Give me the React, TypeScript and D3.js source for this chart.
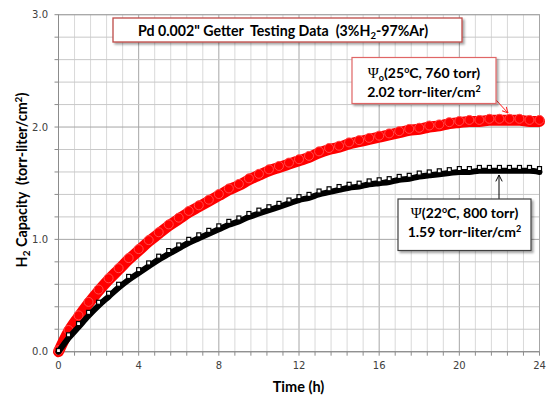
import React from "react";
import * as d3 from "d3";

const hours = [0, 0.5, 1, 1.5, 2, 2.5, 3, 3.5, 4, 4.5, 5, 5.5, 6, 6.5, 7, 7.5, 8, 8.5, 9, 9.5, 10, 10.5, 11, 11.5, 12, 12.5, 13, 13.5, 14, 14.5, 15, 15.5, 16, 16.5, 17, 17.5, 18, 18.5, 19, 19.5, 20, 20.5, 21, 21.5, 22, 22.5, 23, 23.5, 24];
const redValues = [0, 0.18, 0.31, 0.43, 0.54, 0.64, 0.73, 0.82, 0.9, 0.98, 1.05, 1.12, 1.18, 1.24, 1.29, 1.34, 1.39, 1.44, 1.48, 1.53, 1.57, 1.61, 1.64, 1.67, 1.7, 1.73, 1.77, 1.8, 1.82, 1.85, 1.87, 1.89, 1.91, 1.93, 1.95, 1.97, 1.98, 2.0, 2.01, 2.03, 2.04, 2.05, 2.05, 2.06, 2.06, 2.06, 2.06, 2.05, 2.05];
const blackLineValues = [0, 0.12, 0.22, 0.32, 0.41, 0.49, 0.57, 0.64, 0.7, 0.76, 0.82, 0.87, 0.92, 0.97, 1.01, 1.05, 1.09, 1.13, 1.16, 1.2, 1.23, 1.26, 1.29, 1.32, 1.35, 1.37, 1.4, 1.42, 1.44, 1.46, 1.47, 1.49, 1.5, 1.51, 1.53, 1.54, 1.56, 1.57, 1.58, 1.59, 1.6, 1.6, 1.61, 1.61, 1.61, 1.61, 1.61, 1.61, 1.6];
const blackSquareValues = [0.01, 0.15, 0.25, 0.35, 0.44, 0.52, 0.6, 0.67, 0.73, 0.79, 0.85, 0.9, 0.95, 1.0, 1.04, 1.08, 1.12, 1.16, 1.19, 1.23, 1.26, 1.29, 1.32, 1.35, 1.38, 1.4, 1.43, 1.45, 1.47, 1.49, 1.5, 1.52, 1.53, 1.54, 1.56, 1.57, 1.59, 1.6, 1.61, 1.62, 1.63, 1.63, 1.64, 1.64, 1.64, 1.64, 1.64, 1.64, 1.63];
const xTickValues = [0, 4, 8, 12, 16, 20, 24];
const yTickValues = [0, 1, 2, 3];
const titleText = "Pd 0.002\" Getter  Testing Data  (3%H";
const redNote = ["(25", "C, 760 torr)", "2.02 torr-liter/cm"];
const blackNote = ["(22", "C, 800 torr)", "1.59 torr-liter/cm"];

const W = 548;
const H = 396;
const boldFont = "Lato, 'Open Sans', sans-serif";
const pre = { whiteSpace: "pre" as const };

export default function App() {
  const x = d3.scaleLinear().domain([0, 24]).range([58.5, 539.5]);
  const y = d3.scaleLinear().domain([0, 3]).range([351.7, 14.7]);
  const minorX = d3.range(0, 24.001, 0.8);
  const minorY = d3.range(0, 3.001, 0.2);
  const isMajor = (v: number, step: number) => Math.abs(v / step - Math.round(v / step)) < 1e-6;

  const line = d3
    .line<number>()
    .x((_, i) => x(hours[i]))
    .curve(d3.curveMonotoneX);
  const redPath = line.y((v) => y(v))(redValues) || "";
  const blackPath = line.y((v) => y(v))(blackLineValues) || "";

  return (
    <div style={{ position: "fixed", left: 0, top: 0, width: W, height: H, background: "#fff" }}>
      <svg width={W} height={H} viewBox={`0 0 ${W} ${H}`} style={{ display: "block" }}>
        <defs>
          <filter id="shadow" x="-10%" y="-20%" width="130%" height="160%">
            <feDropShadow dx="2" dy="2" stdDeviation="1.2" floodColor="#000" floodOpacity="0.35" />
          </filter>
          <marker id="arrRed" viewBox="0 0 10 10" refX="9" refY="5" markerWidth="7" markerHeight="7" orient="auto">
            <path d="M1,1 L9,5 L1,9" fill="none" stroke="#ff2020" strokeWidth="1.4" />
          </marker>
          <marker id="arrBlack" viewBox="0 0 10 10" refX="9" refY="5" markerWidth="8" markerHeight="8" orient="auto">
            <path d="M1,1 L9,5 L1,9" fill="none" stroke="#000" strokeWidth="1.2" />
          </marker>
        </defs>
        <rect x={0} y={0} width={W} height={H} fill="#fff" />
        {/* grid */}
        {minorX.map((v) => (
          <line key={"gx" + v} x1={x(v)} x2={x(v)} y1={y(0)} y2={y(3)}
            stroke={isMajor(v, 4) ? "#a6a6a6" : "#d9d9d9"} strokeWidth={1} />
        ))}
        {minorY.map((v) => (
          <line key={"gy" + v} x1={x(0)} x2={x(24)} y1={y(v)} y2={y(v)}
            stroke={isMajor(v, 1) ? "#a6a6a6" : "#c8c8c8"} strokeWidth={1} />
        ))}
        <rect x={x(0)} y={y(3)} width={x(24) - x(0)} height={y(0) - y(3)} fill="none" stroke="#a6a6a6" strokeWidth={1} />
        {/* axis ticks */}
        {minorX.map((v) => (
          <line key={"tx" + v} x1={x(v)} x2={x(v)} y1={y(0)} y2={y(0) + 4} stroke="#8c8c8c" />
        ))}
        {minorY.map((v) => (
          <line key={"ty" + v} x1={x(0) - 4} x2={x(0)} y1={y(v)} y2={y(v)} stroke="#8c8c8c" />
        ))}
        <line x1={x(0)} x2={x(24)} y1={y(0)} y2={y(0)} stroke="#8c8c8c" />
        <line x1={x(0)} x2={x(0)} y1={y(0)} y2={y(3)} stroke="#8c8c8c" />
        {/* tick labels */}
        {xTickValues.map((v) => (
          <text key={"xl" + v} x={x(v)} y={369} textAnchor="middle" fontFamily="'DejaVu Sans', sans-serif" fontSize={10} fill="#404040">
            {v}
          </text>
        ))}
        {yTickValues.map((v) => (
          <text key={"yl" + v} x={48} y={y(v) + 3.6} textAnchor="end" fontFamily="'DejaVu Sans', sans-serif" fontSize={10} fill="#404040">
            {v.toFixed(1)}
          </text>
        ))}
        {/* axis titles */}
        <text x={298.5} y={392} textAnchor="middle" fontFamily={boldFont} fontWeight="bold" fontSize={14.5} fill="#000">
          Time (h)
        </text>
        <text transform="translate(27,180) rotate(-90)" textAnchor="middle" fontFamily={boldFont} fontWeight="bold" fontSize={14.3} fill="#000" style={pre}>
          H<tspan fontSize={10} dy={3}>2</tspan><tspan dy={-3}>{" Capacity  (torr-liter/cm"}</tspan><tspan fontSize={10} dy={-5}>2</tspan><tspan dy={5}>)</tspan>
        </text>
        {/* red series */}
        <path d={redPath} fill="none" stroke="#ff0000" strokeWidth={11} strokeLinecap="round" strokeLinejoin="round" />
        {redValues.map((v, i) => (
          <circle key={"rc" + i} cx={x(hours[i])} cy={y(v) - 1.5} r={4.5} fill="#ff0000" stroke="#ff4a4a" strokeWidth={1} />
        ))}
        {/* black series */}
        <path d={blackPath} fill="none" stroke="#000" strokeWidth={6} strokeLinecap="round" strokeLinejoin="round" />
        {blackSquareValues.map((v, i) => (
          <rect key={"bs" + i} x={x(hours[i]) - 2} y={y(v) - 2} width={4} height={4} fill="#fff" stroke="#000" strokeWidth={1.2} />
        ))}
        {/* title box */}
        <rect x={113} y={18} width={349} height={24} fill="#fff" stroke="#be4b48" strokeWidth={1.3} filter="url(#shadow)" />
        <text x={283} y={35.5} textAnchor="middle" fontFamily={boldFont} fontWeight="bold" fontSize={14.2} fill="#000" style={pre}>
          {titleText}<tspan fontSize={9.5} dy={3}>2</tspan><tspan dy={-3}>-97%Ar)</tspan>
        </text>
        {/* red annotation */}
        <line x1={496} y1={100} x2={508} y2={113} stroke="#ff2020" strokeWidth={1} markerEnd="url(#arrRed)" />
        <rect x={352} y={57.5} width={144} height={46} fill="#fff" stroke="#e06666" strokeWidth={1.2} filter="url(#shadow)" />
        <text x={424} y={78} textAnchor="middle" fontFamily={boldFont} fontWeight="bold" fontSize={14} fill="#000">
          <tspan fontFamily="'Liberation Serif', serif" fontWeight="normal" fontSize={15}>Ψ</tspan>
          <tspan fontSize={9} dy={3}>o</tspan>
          <tspan dy={-3}>{redNote[0]}</tspan>
          <tspan fontSize={9} dy={-5}>o</tspan>
          <tspan dy={5}>{redNote[1]}</tspan>
        </text>
        <text x={424} y={97} textAnchor="middle" fontFamily={boldFont} fontWeight="bold" fontSize={14} fill="#000">
          {redNote[2]}<tspan fontSize={9} dy={-5}>2</tspan>
        </text>
        {/* black annotation */}
        <line x1={499} y1={199} x2={499} y2={175} stroke="#000" strokeWidth={1} markerEnd="url(#arrBlack)" />
        <rect x={398} y={199} width={133} height={51.5} fill="#fff" stroke="#404040" strokeWidth={1.2} filter="url(#shadow)" />
        <text x={464.5} y={218} textAnchor="middle" fontFamily={boldFont} fontWeight="bold" fontSize={14} fill="#000">
          <tspan fontFamily="'Liberation Serif', serif" fontWeight="normal" fontSize={15}>Ψ</tspan>
          <tspan>{blackNote[0]}</tspan>
          <tspan fontSize={9} dy={-5}>o</tspan>
          <tspan dy={5}>{blackNote[1]}</tspan>
        </text>
        <text x={464.5} y={237} textAnchor="middle" fontFamily={boldFont} fontWeight="bold" fontSize={14} fill="#000">
          {blackNote[2]}<tspan fontSize={9} dy={-5}>2</tspan>
        </text>
      </svg>
    </div>
  );
}
